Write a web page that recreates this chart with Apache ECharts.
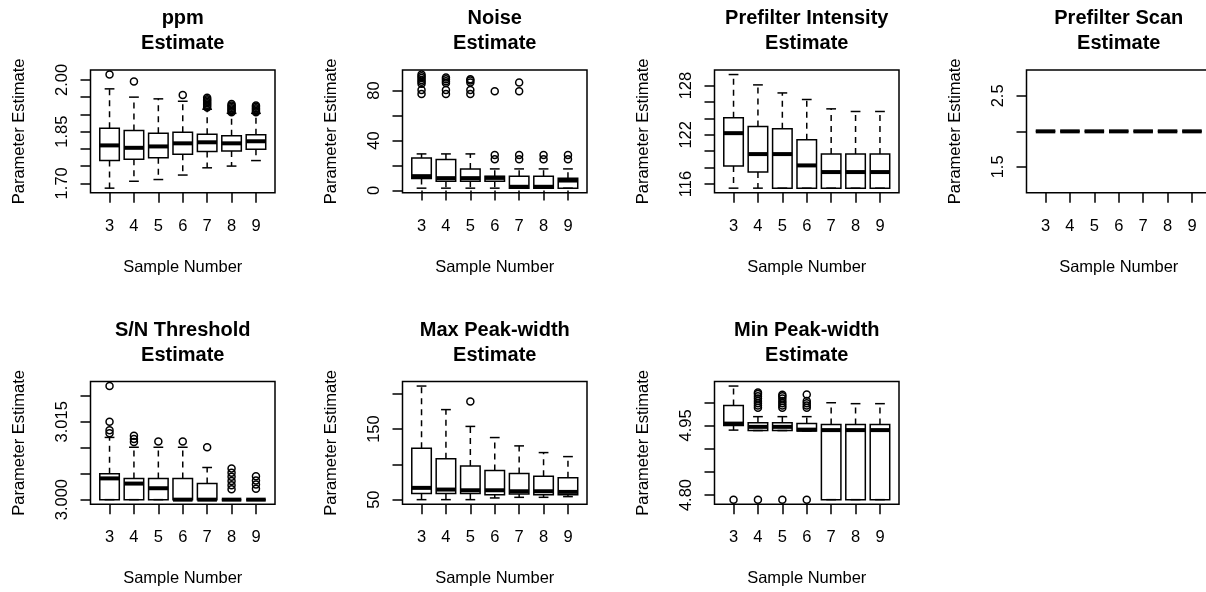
<!DOCTYPE html>
<html>
<head>
<meta charset="utf-8">
<title>Parameter Estimates by Sample Number</title>
<script src="https://cdn.jsdelivr.net/npm/echarts@6/dist/echarts.min.js"></script>
<style>
  html, body { margin: 0; padding: 0; background: #fff; }
  #chart { width: 1206px; height: 592px; }
</style>
</head>
<body>
<div id="chart"></div>
<script>
// sample numbers along every x axis
const sampleNumbers = ['3', '4', '5', '6', '7', '8', '9'];

// box statistics per sample: [lower whisker, Q1, median, Q3, upper whisker]
const ppmStats = [
  [1.686, 1.766, 1.810, 1.860, 1.974],
  [1.706, 1.770, 1.803, 1.853, 1.950],
  [1.711, 1.774, 1.807, 1.845, 1.945],
  [1.724, 1.784, 1.816, 1.848, 1.938],
  [1.745, 1.792, 1.819, 1.842, 1.915],
  [1.750, 1.794, 1.816, 1.838, 1.903],
  [1.766, 1.799, 1.822, 1.841, 1.903]
];
// outliers: [sample index, value]
const ppmOutliers = [
  [0, 2.0155], [1, 1.995], [3, 1.956],
  [4, 1.920], [4, 1.924], [4, 1.928], [4, 1.932], [4, 1.936], [4, 1.940], [4, 1.944], [4, 1.948],
  [5, 1.906], [5, 1.910], [5, 1.914], [5, 1.918], [5, 1.922], [5, 1.926], [5, 1.930],
  [6, 1.906], [6, 1.910], [6, 1.914], [6, 1.918], [6, 1.922], [6, 1.926]
];
const ppmTicks = [1.70, 1.75, 1.80, 1.85, 1.90, 1.95, 2.00];
const ppmLabels = [1.70, 1.85, 2.00];

const noiseStats = [
  [1.9, 9.6, 11.5, 26.1, 29.3],
  [1.9, 7.5, 9.9, 24.8, 29.3],
  [1.9, 7.5, 9.9, 17.3, 29.3],
  [1.9, 7.5, 10.1, 11.5, 17.3],
  [1.9, 1.9, 3.0, 11.5, 17.3],
  [1.9, 1.9, 3.0, 11.5, 17.3],
  [1.9, 1.9, 8.0, 9.9, 17.3]
];
const noiseOutliers = [
  [0, 77.3], [0, 80.5], [0, 85.5], [0, 87], [0, 88.5], [0, 90], [0, 91.5], [0, 92.8],
  [1, 77.3], [1, 80.5], [1, 86], [1, 87.5], [1, 89], [1, 90.5],
  [2, 77.3], [2, 80.5], [2, 86.5], [2, 88], [2, 89],
  [3, 25], [3, 28.5], [3, 79.5],
  [4, 25], [4, 28.5], [4, 79.5], [4, 86.5],
  [5, 25], [5, 28.5],
  [6, 25], [6, 28.5]
];
const noiseTicks = [0, 20, 40, 60, 80];
const noiseLabels = [0, 40, 80];

const intensityStats = [
  [115.5, 118.19, 122.2, 124.07, 129.34],
  [115.5, 117.46, 119.65, 123.0, 128.08],
  [115.5, 115.5, 119.65, 122.73, 127.1],
  [115.5, 115.5, 118.27, 121.4, 126.3],
  [115.5, 115.5, 117.46, 119.65, 125.16],
  [115.5, 115.5, 117.46, 119.65, 124.84],
  [115.5, 115.5, 117.46, 119.65, 124.84]
];
const intensityOutliers = [];
const intensityTicks = [116, 118, 120, 122, 124, 126, 128];
const intensityLabels = [116, 122, 128];

const scanStats = [
  [2, 2, 2, 2, 2], [2, 2, 2, 2, 2], [2, 2, 2, 2, 2], [2, 2, 2, 2, 2],
  [2, 2, 2, 2, 2], [2, 2, 2, 2, 2], [2, 2, 2, 2, 2]
];
const scanOutliers = [];
const scanTicks = [1.5, 2.0, 2.5];
const scanLabels = [1.5, 2.5];

const snStats = [
  [3.000, 3.000, 3.0041, 3.0050, 3.0120],
  [3.000, 3.000, 3.0031, 3.0041, 3.0101],
  [3.000, 3.000, 3.0022, 3.0041, 3.0101],
  [3.000, 3.000, 3.000, 3.0041, 3.0101],
  [3.000, 3.000, 3.000, 3.0031, 3.0062],
  [3.000, 3.000, 3.000, 3.000, 3.000],
  [3.000, 3.000, 3.000, 3.000, 3.000]
];
const snOutliers = [
  [0, 3.0128], [0, 3.0134], [0, 3.0150], [0, 3.0219],
  [1, 3.0111], [1, 3.0117], [1, 3.0123],
  [2, 3.0112], [3, 3.0112], [4, 3.0101],
  [5, 3.0020], [5, 3.0028], [5, 3.0036], [5, 3.0044], [5, 3.0052], [5, 3.0060],
  [6, 3.0021], [6, 3.0029], [6, 3.0037], [6, 3.0045]
];
const snTicks = [3.000, 3.005, 3.010, 3.015, 3.020];
const snLabels = [3.000, 3.015];

const maxPeakStats = [
  [50, 58.6, 66.7, 122.9, 211],
  [50, 58.6, 64.3, 108.1, 177.6],
  [50, 58.6, 63.3, 97.6, 153.8],
  [52.4, 57.1, 63.3, 91.4, 138],
  [53.3, 58.1, 61.9, 87.1, 126.2],
  [53.3, 57.1, 61.9, 83.3, 116.7],
  [54.3, 57.1, 61.0, 81.0, 111]
];
const maxPeakOutliers = [[2, 189]];
const maxPeakTicks = [50, 100, 150, 200];
const maxPeakLabels = [50, 150];

const minPeakStats = [
  [4.940, 4.950, 4.954, 4.993, 5.035],
  [4.939, 4.939, 4.947, 4.956, 4.969],
  [4.939, 4.939, 4.947, 4.956, 4.969],
  [4.938, 4.938, 4.941, 4.954, 4.969],
  [4.790, 4.790, 4.940, 4.952, 4.999],
  [4.790, 4.790, 4.940, 4.952, 4.997],
  [4.790, 4.790, 4.940, 4.952, 4.997]
];
const minPeakOutliers = [
  [0, 4.79],
  [1, 4.79], [1, 4.988], [1, 4.993], [1, 4.998], [1, 5.003], [1, 5.008], [1, 5.013], [1, 5.018], [1, 5.021],
  [2, 4.79], [2, 4.988], [2, 4.993], [2, 4.998], [2, 5.003], [2, 5.008], [2, 5.013], [2, 5.016],
  [3, 4.79], [3, 4.988], [3, 4.993], [3, 4.998], [3, 5.003], [3, 5.017]
];
const minPeakTicks = [4.80, 4.85, 4.90, 4.95, 5.00];
const minPeakLabels = [4.80, 4.95];

const panels = [
  { title: 'ppm\nEstimate', stats: ppmStats, outliers: ppmOutliers, ticks: ppmTicks, labels: ppmLabels, digits: 2 },
  { title: 'Noise\nEstimate', stats: noiseStats, outliers: noiseOutliers, ticks: noiseTicks, labels: noiseLabels, digits: 0 },
  { title: 'Prefilter Intensity\nEstimate', stats: intensityStats, outliers: intensityOutliers, ticks: intensityTicks, labels: intensityLabels, digits: 0 },
  { title: 'Prefilter Scan\nEstimate', stats: scanStats, outliers: scanOutliers, ticks: scanTicks, labels: scanLabels, digits: 1 },
  { title: 'S/N Threshold\nEstimate', stats: snStats, outliers: snOutliers, ticks: snTicks, labels: snLabels, digits: 3 },
  { title: 'Max Peak-width\nEstimate', stats: maxPeakStats, outliers: maxPeakOutliers, ticks: maxPeakTicks, labels: maxPeakLabels, digits: 0 },
  { title: 'Min Peak-width\nEstimate', stats: minPeakStats, outliers: minPeakOutliers, ticks: minPeakTicks, labels: minPeakLabels, digits: 2 }
];

// layout of the 2 x 4 panel grid
const LEFT0 = 90.5, COL_STEP = 312, PLOT_W = 184.5, PLOT_H = 122.7;
const ROW_TOP = [70, 381.5];
const TITLE_TOP = [6, 317.5];
const FONT = '"Liberation Sans", Arial, Helvetica, sans-serif';
const LW = 1.5;

// y range like R: data range padded 4% on each side
function yRange(p) {
  let lo = Infinity, hi = -Infinity;
  p.stats.forEach(s => s.forEach(v => { lo = Math.min(lo, v); hi = Math.max(hi, v); }));
  p.outliers.forEach(o => { lo = Math.min(lo, o[1]); hi = Math.max(hi, o[1]); });
  if (hi === lo) { const d = 0.4 * Math.abs(lo); lo -= d; hi += d; }
  const pad = (hi - lo) * 0.04;
  return [lo - pad, hi + pad];
}

function renderBox(params, api) {
  const x = api.value(0);
  const lo = api.value(1), q1 = api.value(2), med = api.value(3), q3 = api.value(4), hi = api.value(5);
  const c = (xx, yy) => api.coord([xx, yy]);
  const seg = (x1, y1, x2, y2, style) => {
    const a = c(x1, y1), b = c(x2, y2);
    return { type: 'line', shape: { x1: a[0], y1: a[1], x2: b[0], y2: b[1] }, style: style };
  };
  const solid = { stroke: '#000', lineWidth: LW };
  const dashed = { stroke: '#000', lineWidth: LW, lineDash: [6, 5] };
  const tl = c(x - 0.4, q3), br = c(x + 0.4, q1);
  return {
    type: 'group',
    children: [
      seg(x, q3, x, hi, dashed),
      seg(x, q1, x, lo, dashed),
      seg(x - 0.2, hi, x + 0.2, hi, solid),
      seg(x - 0.2, lo, x + 0.2, lo, solid),
      { type: 'rect', shape: { x: tl[0], y: tl[1], width: br[0] - tl[0], height: br[1] - tl[1] },
        style: { fill: 'rgba(0,0,0,0)', stroke: '#000', lineWidth: LW } },
      seg(x - 0.4, med, x + 0.4, med, { stroke: '#000', lineWidth: 4 })
    ]
  };
}

const grid = [], xAxis = [], yAxis = [], series = [], title = [];

panels.forEach((p, i) => {
  const col = i % 4, row = Math.floor(i / 4);
  const left = LEFT0 + col * COL_STEP;
  const yr = yRange(p);

  grid.push({
    left: left, top: ROW_TOP[row], width: PLOT_W, height: PLOT_H,
    show: true, borderColor: '#000', borderWidth: LW, backgroundColor: 'transparent',
    containLabel: false, outerBoundsMode: 'none'
  });

  title.push({
    text: p.title, left: left + PLOT_W / 2, top: TITLE_TOP[row], textAlign: 'center', padding: 0,
    textStyle: { fontFamily: FONT, fontSize: 20, fontWeight: 'bold', color: '#000', lineHeight: 25 }
  });

  xAxis.push({
    gridIndex: i, type: 'value', min: 0.22, max: 7.78,
    name: 'Sample Number', nameLocation: 'middle', nameGap: 66,
    nameTextStyle: { fontFamily: FONT, fontSize: 16.5, color: '#000' },
    axisLine: { show: false },
    splitLine: { show: false },
    axisTick: { show: true, length: 10, inside: false, customValues: sampleNumbers.map((s, k) => k + 1),
      lineStyle: { color: '#000', width: LW } },
    axisLabel: { show: true, margin: 25, customValues: sampleNumbers.map((s, k) => k + 1),
      formatter: v => sampleNumbers[Math.round(v) - 1],
      fontFamily: FONT, fontSize: 16.5, color: '#000' }
  });

  yAxis.push({
    gridIndex: i, type: 'value', min: yr[0], max: yr[1],
    name: 'Parameter Estimate', nameLocation: 'middle', nameGap: 63, nameRotate: 90,
    nameTextStyle: { fontFamily: FONT, fontSize: 16.5, color: '#000' },
    axisLine: { show: false },
    splitLine: { show: false },
    axisTick: { show: true, length: 10, inside: false, customValues: p.ticks,
      lineStyle: { color: '#000', width: LW } },
    axisLabel: { show: true, rotate: 90, margin: 20, customValues: p.labels,
      formatter: v => v.toFixed(p.digits),
      fontFamily: FONT, fontSize: 16.5, color: '#000' }
  });

  series.push({
    type: 'custom', xAxisIndex: i, yAxisIndex: i,
    renderItem: renderBox,
    encode: { x: 0, y: [1, 2, 3, 4, 5] },
    data: p.stats.map((s, k) => [k + 1].concat(s)),
    silent: true, animation: false
  });

  series.push({
    type: 'scatter', xAxisIndex: i, yAxisIndex: i,
    symbol: 'circle', symbolSize: 7,
    itemStyle: { color: 'rgba(0,0,0,0)', borderColor: '#000', borderWidth: LW, opacity: 1 },
    data: p.outliers.map(o => [o[0] + 1, o[1]]),
    silent: true, animation: false
  });
});

const chart = echarts.init(document.getElementById('chart'), null, { renderer: 'canvas' });
chart.setOption({
  backgroundColor: '#fff',
  animation: false,
  title: title,
  grid: grid,
  xAxis: xAxis,
  yAxis: yAxis,
  series: series
});
</script>
</body>
</html>
